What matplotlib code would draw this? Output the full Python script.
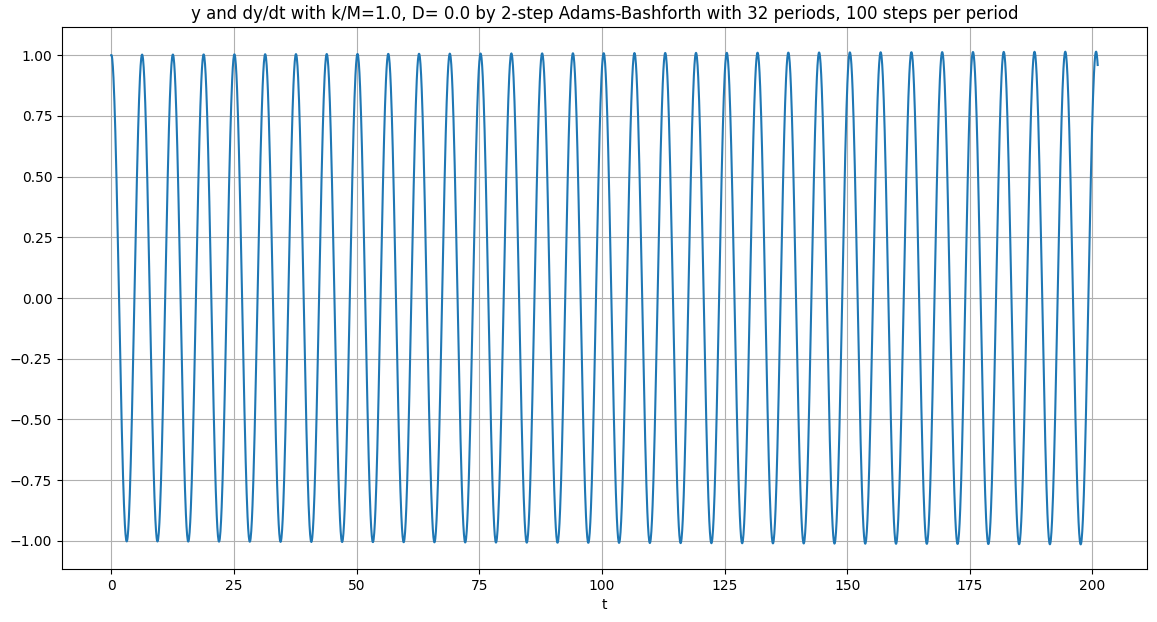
import numpy as np
import matplotlib
matplotlib.use("Agg")
import matplotlib.pyplot as plt

# Parameters stated in the chart title
k_over_M = 1.0
D = 0.0
periods = 32
steps_per_period = 100
y0, v0 = 1.0, 0.0

dt = 2 * np.pi / steps_per_period
n = periods * steps_per_period

def f(y, v):
    return np.array([v, -k_over_M * y - D * v])

t = [0.0]
state = [np.array([y0, v0])]
fprev = f(*state[0])
# first step: Euler
state.append(state[0] + dt * fprev)
t.append(dt)
for i in range(1, n):
    fcur = f(*state[-1])
    state.append(state[-1] + dt * (1.5 * fcur - 0.5 * fprev))
    fprev = fcur
    t.append((i + 1) * dt)
t = np.array(t)
y = np.array([s[0] for s in state])

fig = plt.figure(figsize=(11.57, 6.22), dpi=100)
ax = fig.add_axes([62/1157, 53/622, 1085/1157, 542/622])
ax.plot(t, y, color="#1f77b4", lw=1.5)
ax.grid(True)
ax.set_xlabel("t")
ax.set_yticks(np.arange(-1.0, 1.01, 0.25))
ax.set_title(f"y and dy/dt with k/M={k_over_M}, D= {D} by 2-step Adams-Bashforth with {periods} periods, {steps_per_period} steps per period")
fig.savefig("out.png", dpi=100)
